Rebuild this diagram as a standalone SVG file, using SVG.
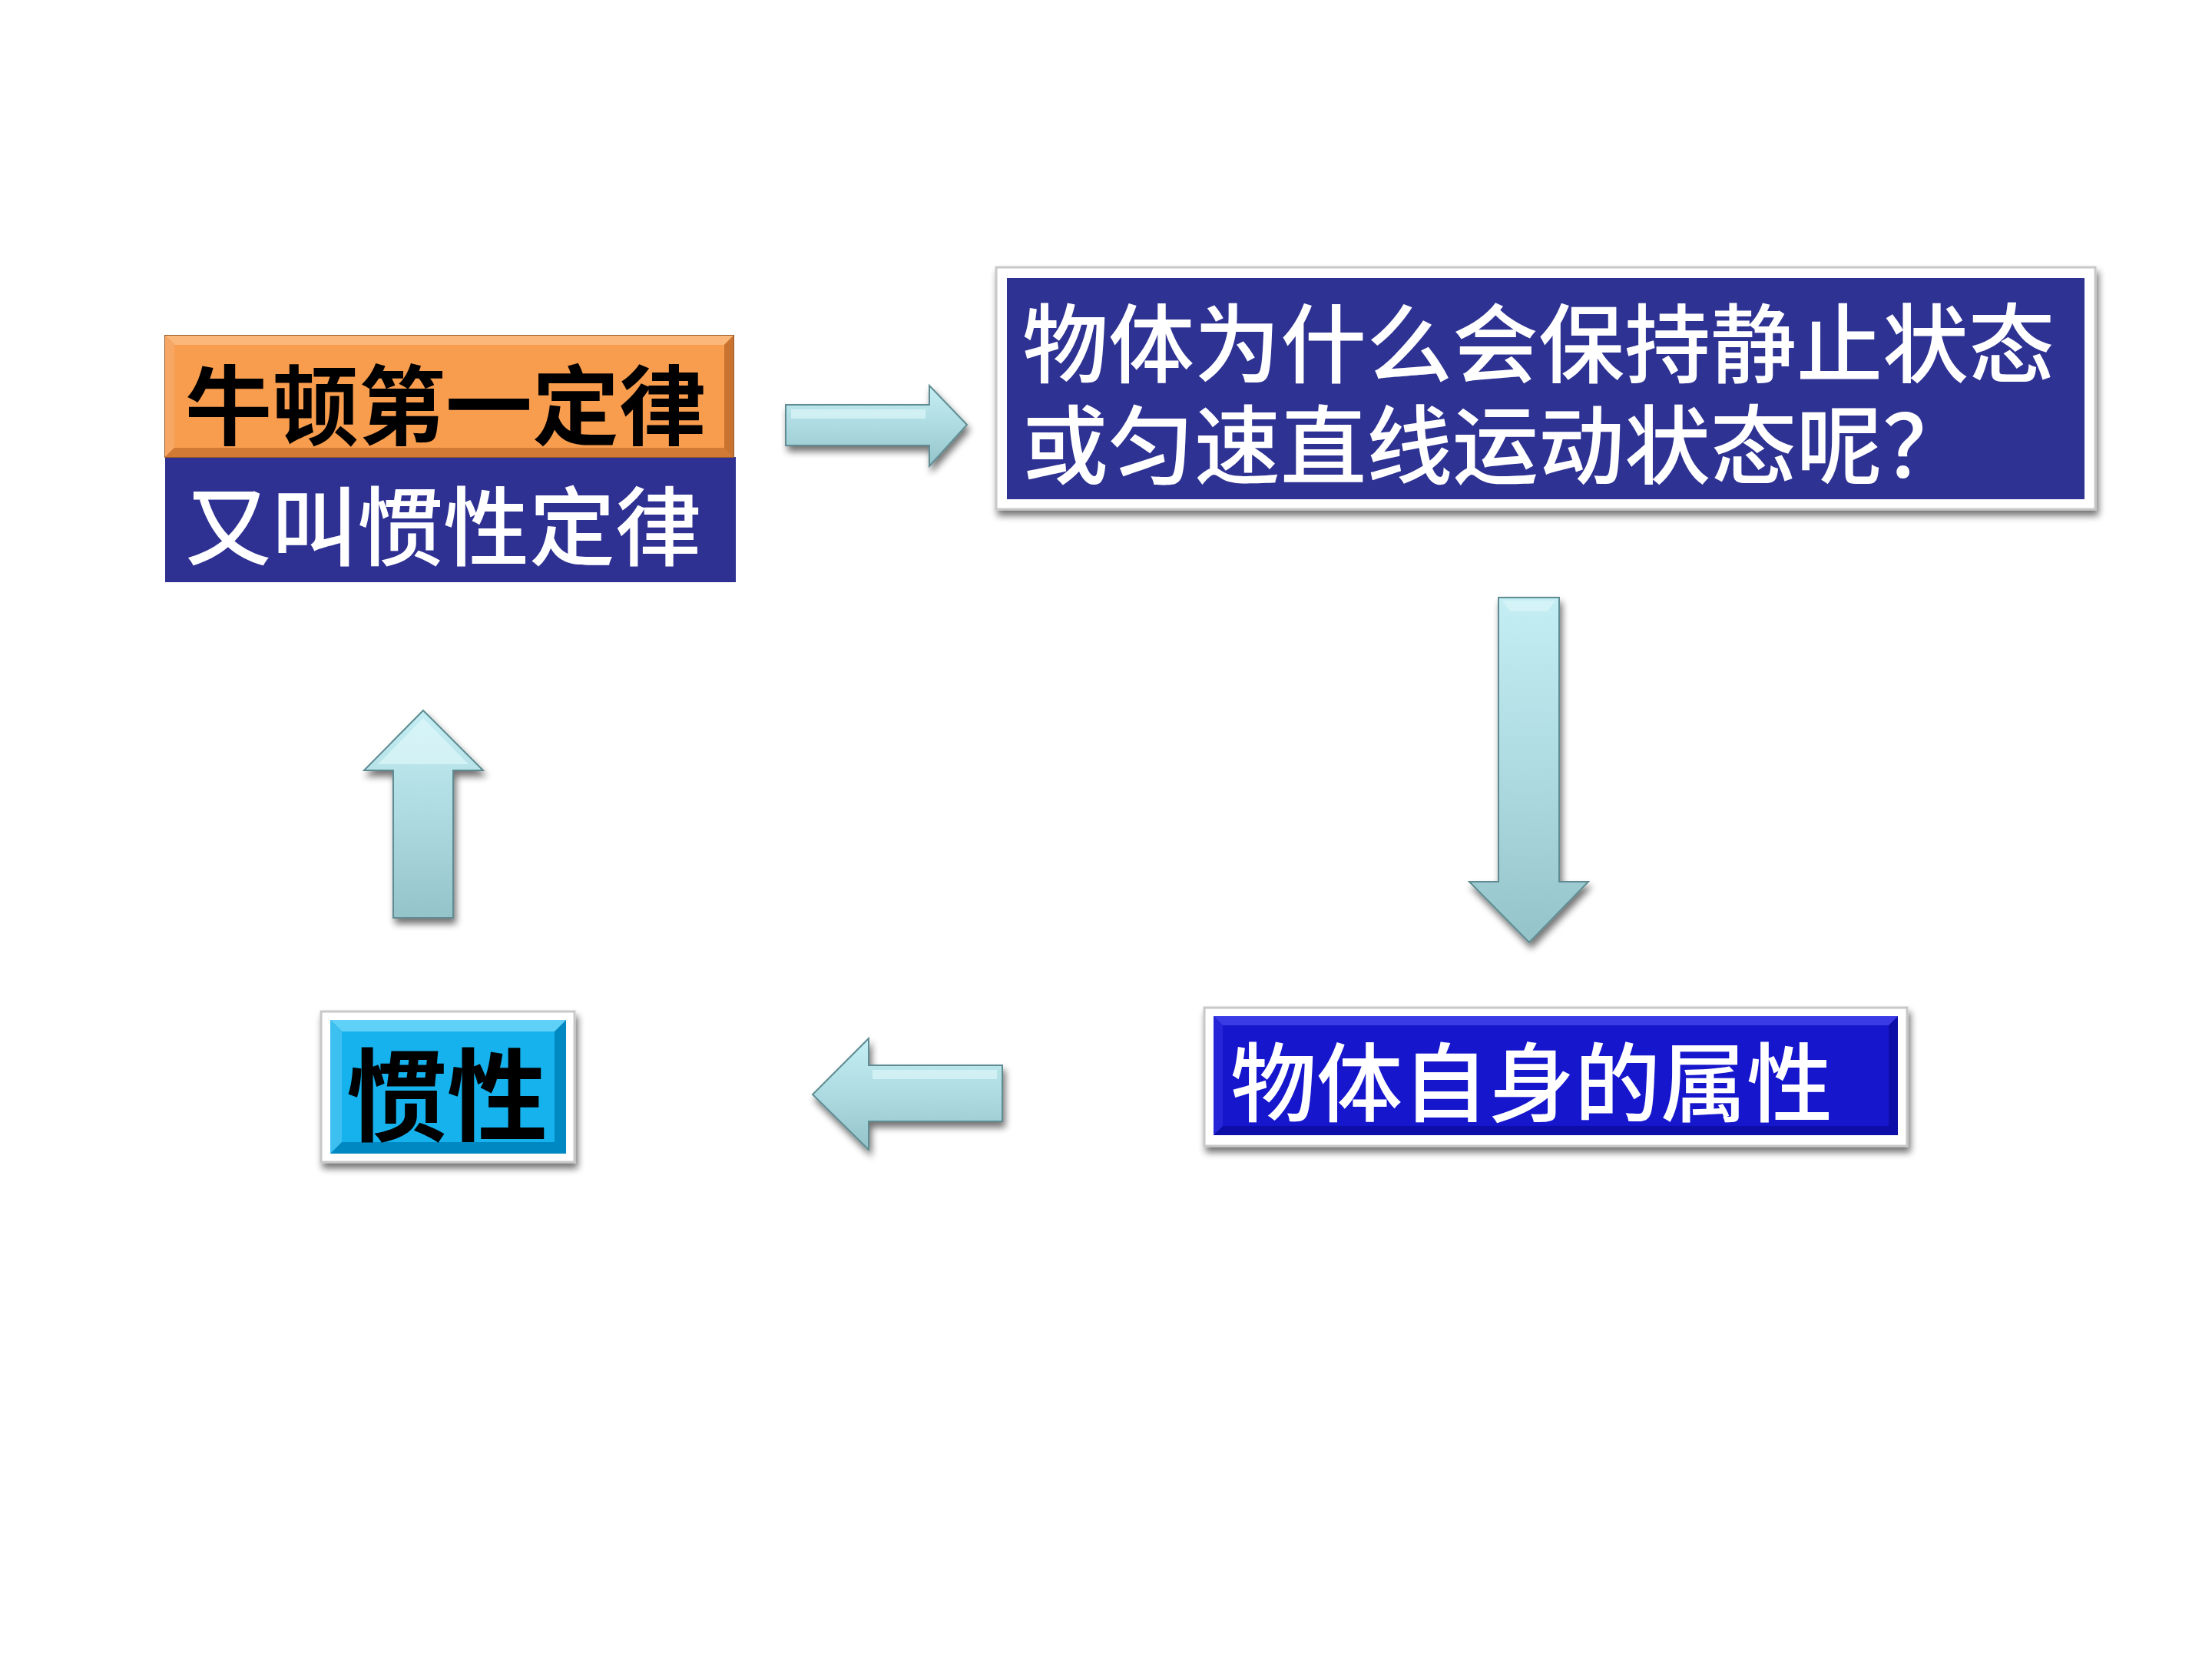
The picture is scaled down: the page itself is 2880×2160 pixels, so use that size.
<svg xmlns="http://www.w3.org/2000/svg" width="2880" height="2160" viewBox="0 0 2880 2160">
<defs>
<style>
.cjk{font-family:"Noto Sans CJK SC","Noto Sans CJK TC",sans-serif;}
.wt{fill:#ffffff;font-size:112px;font-weight:500;}
.bk{fill:#000000;font-weight:700;}
.arrow{stroke:#5e8c92;stroke-width:2;}
.frame{fill:#ffffff;stroke:#c8c8c8;stroke-width:3;}
</style>
<filter id="sh" x="-20%" y="-20%" width="140%" height="150%">
<feGaussianBlur in="SourceAlpha" stdDeviation="5"/>
<feOffset dx="3" dy="7" result="b"/>
<feComponentTransfer><feFuncA type="linear" slope="0.55"/></feComponentTransfer>
<feMerge><feMergeNode/><feMergeNode in="SourceGraphic"/></feMerge>
</filter>
<linearGradient id="agV" x1="0" y1="0" x2="0" y2="1">
<stop offset="0" stop-color="#c4eef3"/>
<stop offset="0.5" stop-color="#addbe1"/>
<stop offset="1" stop-color="#94c3c9"/>
</linearGradient>
<linearGradient id="agH" x1="0" y1="0" x2="1" y2="0">
<stop offset="0" stop-color="#c4eef3"/>
<stop offset="0.5" stop-color="#addbe1"/>
<stop offset="1" stop-color="#94c3c9"/>
</linearGradient>
</defs>
<rect width="2880" height="2160" fill="#ffffff"/>

<g id="connectors">
<g id="arrow-right" filter="url(#sh)">
<polygon class="arrow" fill="url(#agV)" points="1023,527 1210,527 1210,502 1259,553 1210,607 1210,580 1023,580"/>
<polygon fill="#e4fafc" opacity="0.6" points="1030,533 1205,533 1205,545 1030,545"/>
</g>
<g id="arrow-down" filter="url(#sh)">
<polygon class="arrow" fill="url(#agV)" points="1951,778 2030,778 2030,1148 2068,1148 1991,1227 1913,1148 1951,1148"/>
<polygon fill="#e4fafc" opacity="0.5" points="1956,782 2025,782 2015,796 1966,796"/>
</g>
<g id="arrow-left" filter="url(#sh)">
<polygon class="arrow" fill="url(#agV)" points="1305,1387 1131,1387 1131,1352 1058,1425 1131,1497 1131,1460 1305,1460"/>
<polygon fill="#e4fafc" opacity="0.6" points="1136,1393 1298,1393 1298,1405 1136,1405"/>
</g>
<g id="arrow-up" filter="url(#sh)">
<polygon class="arrow" fill="url(#agV)" points="551,925 629,1003 590,1003 590,1195 512,1195 512,1003 474,1003"/>
<polygon fill="#e4fafc" opacity="0.6" points="551,935 610,995 492,995"/>
</g>
</g>

<g id="node-newton">
<rect x="215" y="595" width="743" height="163" fill="#2e3192"/>
<rect x="215" y="437" width="740" height="158" fill="#c5722e" stroke="#9a5a26" stroke-width="2"/>
<polygon points="215,437 955,437 943,449 227,449" fill="#fbb77a"/>
<polygon points="215,437 227,449 227,583 215,595" fill="#f6a764"/>
<polygon points="955,437 955,595 943,583 943,449" fill="#c97330"/>
<polygon points="215,595 955,595 943,583 227,583" fill="#d07a36"/>
<rect x="227" y="449" width="716" height="134" fill="#f89c4e"/>
<text class="cjk bk" x="241" y="570" font-size="113">牛顿第一定律</text>
<text class="cjk wt" x="241" y="728" font-size="113">又叫惯性定律</text>
</g>

<g id="node-question" filter="url(#sh)">
<rect class="frame" x="1297" y="348" width="1431" height="315"/>
<rect x="1311" y="362" width="1403" height="288" fill="#2e3192"/>
<text class="cjk wt" x="1331" y="490">物体为什么会保持静止状态</text>
<text class="cjk wt" x="1331" y="622">或匀速直线运动状态呢？</text>
</g>

<g id="node-property" filter="url(#sh)">
<rect class="frame" x="1568" y="1312" width="915" height="180"/>
<rect x="1580" y="1323" width="891" height="155" fill="#0c0ca8"/>
<polygon points="1580,1323 2471,1323 2459,1335 1592,1335" fill="#3a3ae6"/>
<polygon points="1580,1323 1592,1335 1592,1466 1580,1478" fill="#2828d8"/>
<rect x="1592" y="1335" width="867" height="131" fill="#1616cc"/>
<text class="cjk wt" x="1602" y="1452">物体自身的属性</text>
</g>

<g id="node-inertia" filter="url(#sh)">
<rect class="frame" x="418" y="1317" width="330" height="196"/>
<rect x="430" y="1328" width="307" height="174" fill="#0088c2"/>
<polygon points="430,1328 737,1328 722,1343 445,1343" fill="#5fd0f7"/>
<polygon points="430,1328 445,1343 445,1487 430,1502" fill="#3cc0f0"/>
<rect x="445" y="1343" width="277" height="144" fill="#12b2ee"/>
<text class="cjk bk" x="451" y="1475" font-size="131">惯性</text>
</g>
</svg>
